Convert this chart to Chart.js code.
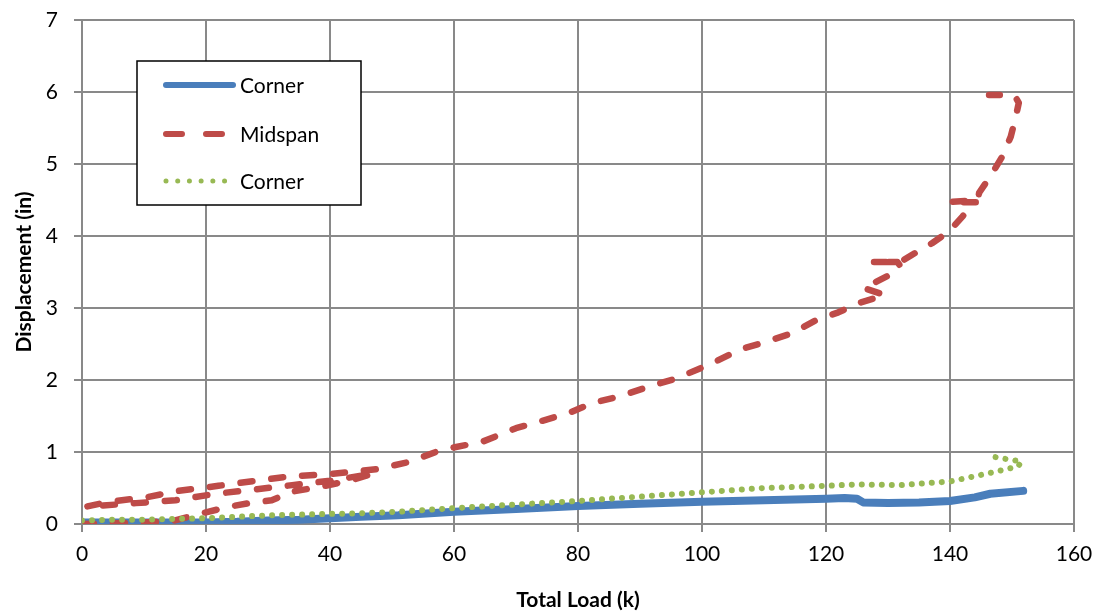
<!DOCTYPE html>
<html>
<head>
<meta charset="utf-8">
<script src="https://cdn.jsdelivr.net/npm/chart.js@4/dist/chart.umd.min.js"></script>
<style>
    html, body { margin: 0; padding: 0; background: #fff; }
    #wrap { width: 1104px; height: 615px; }
</style>
</head>
<body>
<div id="wrap"><canvas id="chart" width="1104" height="615"></canvas></div>
<script>
// Axis ticks
const xTicks = [0, 20, 40, 60, 80, 100, 120, 140, 160];
const yTicks = [0, 1, 2, 3, 4, 5, 6, 7];

// Corner (solid blue) - load (k), displacement (in)
const cornerLoad = [0, 5, 10, 15, 20, 25, 30, 35, 40, 45, 51, 60, 70, 80, 90, 100, 110, 120, 123, 125, 126, 130, 135, 140, 144, 146.5, 151.8];
const cornerDisp = [0.02, 0.02, 0.02, 0.02, 0.02, 0.03, 0.05, 0.06, 0.08, 0.1, 0.12, 0.17, 0.21, 0.25, 0.28, 0.31, 0.33, 0.35, 0.36, 0.35, 0.3, 0.29, 0.3, 0.32, 0.37, 0.42, 0.46];

// Midspan (red dashed)
const midLoad = [0, 5, 10, 15, 19.4, 23.7, 27, 30.6, 33.9, 38.7, 43.5, 47,
    40, 33.9, 26.9, 21.6, 15.1, 8.7, 0.6,
    4.4, 10.3, 15.6, 22, 28, 33.4, 39.4, 45.2, 47.4,
    52.7, 58, 64.5, 70, 73.7, 78.5, 82.3, 86.6, 91.5, 95.8, 101.6, 106, 110.3, 114.5, 118.4, 122, 125.3,
    129.5, 126, 128, 130.5, 132, 131.5, 127.4, 132, 133.9, 137.1, 139.8, 142, 143.5, 144.2, 139.8, 144.5,
    144.7, 146.8, 148.4, 149.8, 150.6, 151.1, 150.5, 150, 146.3];
const midDisp = [0.0, 0.01, 0.02, 0.05, 0.15, 0.24, 0.29, 0.33, 0.45, 0.52, 0.61, 0.7,
    0.6, 0.54, 0.47, 0.42, 0.33, 0.29, 0.24,
    0.31, 0.37, 0.46, 0.53, 0.6, 0.66, 0.69, 0.74, 0.76,
    0.86, 1.03, 1.14, 1.33, 1.42, 1.54, 1.68, 1.77, 1.91, 2.02, 2.23, 2.42, 2.53, 2.65, 2.83, 2.94, 3.07,
    3.18, 3.28, 3.36, 3.47, 3.58, 3.64, 3.64, 3.64, 3.74, 3.9, 4.06, 4.27, 4.42, 4.47, 4.47, 4.5,
    4.6, 4.87, 5.1, 5.38, 5.65, 5.85, 5.94, 5.96, 5.96];

// Corner (dotted green)
const corner2Load = [0, 5, 10, 15, 20, 25, 30, 35, 40, 45, 51, 60, 70, 80, 90, 100, 110, 120, 125, 132, 140, 146, 151, 151.5, 149.2, 147.3];
const corner2Disp = [0.05, 0.06, 0.06, 0.07, 0.08, 0.1, 0.12, 0.13, 0.14, 0.15, 0.17, 0.22, 0.27, 0.32, 0.38, 0.44, 0.5, 0.53, 0.55, 0.54, 0.59, 0.7, 0.8, 0.87, 0.9, 0.93];

const BLUE = '#4A7EBB';
const RED = '#BE4B48';
const GREEN = '#98B954';
const GRID = '#898989';
const FONT = 'Lato, "Open Sans", sans-serif';

const toPoints = (xs, ys) => xs.map((x, i) => ({ x, y: ys[i] }));

// Legend drawn inside the plot, Excel style
const boxLegend = {
    id: 'boxLegend',
    afterDraw(chart) {
        const ctx = chart.ctx;
        const rows = [
            { label: 'Corner', color: BLUE, width: 6, dash: [], y: 85 },
            { label: 'Midspan', color: RED, width: 6, dash: [16, 24], y: 134 },
            { label: 'Corner', color: GREEN, width: 5, dash: [0.01, 11.7], y: 181 },
        ];
        ctx.save();
        ctx.fillStyle = '#fff';
        ctx.fillRect(137, 61, 224, 144);
        ctx.strokeStyle = '#000';
        ctx.lineWidth = 1.5;
        ctx.strokeRect(137, 61, 224, 144);
        rows.forEach(r => {
            ctx.beginPath();
            ctx.strokeStyle = r.color;
            ctx.lineWidth = r.width;
            ctx.lineCap = 'round';
            ctx.setLineDash(r.dash);
            ctx.moveTo(166, r.y);
            ctx.lineTo(233, r.y);
            ctx.stroke();
            ctx.setLineDash([]);
            ctx.fillStyle = '#000';
            ctx.font = '21px ' + FONT;
            ctx.textBaseline = 'middle';
            ctx.textAlign = 'left';
            ctx.fillText(r.label, 240, r.y + 1);
        });
        ctx.restore();
    }
};

new Chart(document.getElementById('chart'), {
    type: 'scatter',
    data: {
        datasets: [
            {
                label: 'Corner',
                data: toPoints(cornerLoad, cornerDisp),
                showLine: true,
                borderColor: BLUE,
                borderWidth: 8,
                borderCapStyle: 'round',
                borderJoinStyle: 'round',
                pointRadius: 0,
                tension: 0,
                order: 3,
            },
            {
                label: 'Midspan',
                data: toPoints(midLoad, midDisp),
                showLine: true,
                borderColor: RED,
                borderWidth: 6.5,
                borderDash: [12, 19],
                borderCapStyle: 'round',
                borderJoinStyle: 'round',
                pointRadius: 0,
                tension: 0,
                order: 2,
            },
            {
                label: 'Corner',
                data: toPoints(corner2Load, corner2Disp),
                showLine: true,
                borderColor: GREEN,
                borderWidth: 6,
                borderDash: [0.01, 10],
                borderCapStyle: 'round',
                pointRadius: 0,
                tension: 0,
                order: 1,
            },
        ],
    },
    options: {
        responsive: false,
        animation: false,
        layout: { padding: { left: 0, top: 20, right: 30, bottom: 0 } },
        plugins: {
            legend: { display: false },
            tooltip: { enabled: false },
        },
        scales: {
            x: {
                type: 'linear',
                min: 0,
                max: 160,
                afterBuildTicks: axis => { axis.ticks = xTicks.map(v => ({ value: v })); },
                afterFit: axis => { axis.height = 91; },
                grid: { color: GRID, lineWidth: 2, tickLength: 8, tickColor: GRID },
                border: { color: GRID, width: 2 },
                ticks: { color: '#000', font: { family: FONT, size: 21 }, padding: 10, maxRotation: 0 },
                title: {
                    display: true,
                    text: 'Total Load (k)',
                    color: '#000',
                    font: { family: FONT, size: 21, weight: 'bold' },
                    padding: { top: 0, bottom: 2 },
                },
            },
            y: {
                type: 'linear',
                min: 0,
                max: 7,
                afterBuildTicks: axis => { axis.ticks = yTicks.map(v => ({ value: v })); },
                afterFit: axis => {
                    axis.width = 82;
                    axis.paddingTop = 0;
                    axis.paddingBottom = 0;
                },
                grid: { color: GRID, lineWidth: 2, tickLength: 8, tickColor: GRID },
                border: { color: GRID, width: 2 },
                ticks: { color: '#000', font: { family: FONT, size: 21 }, padding: 16 },
                title: {
                    display: true,
                    text: 'Displacement (in)',
                    color: '#000',
                    font: { family: FONT, size: 21, weight: 'bold' },
                    padding: { top: 12, bottom: 0 },
                },
            },
        },
    },
    plugins: [boxLegend],
});
</script>
</body>
</html>
